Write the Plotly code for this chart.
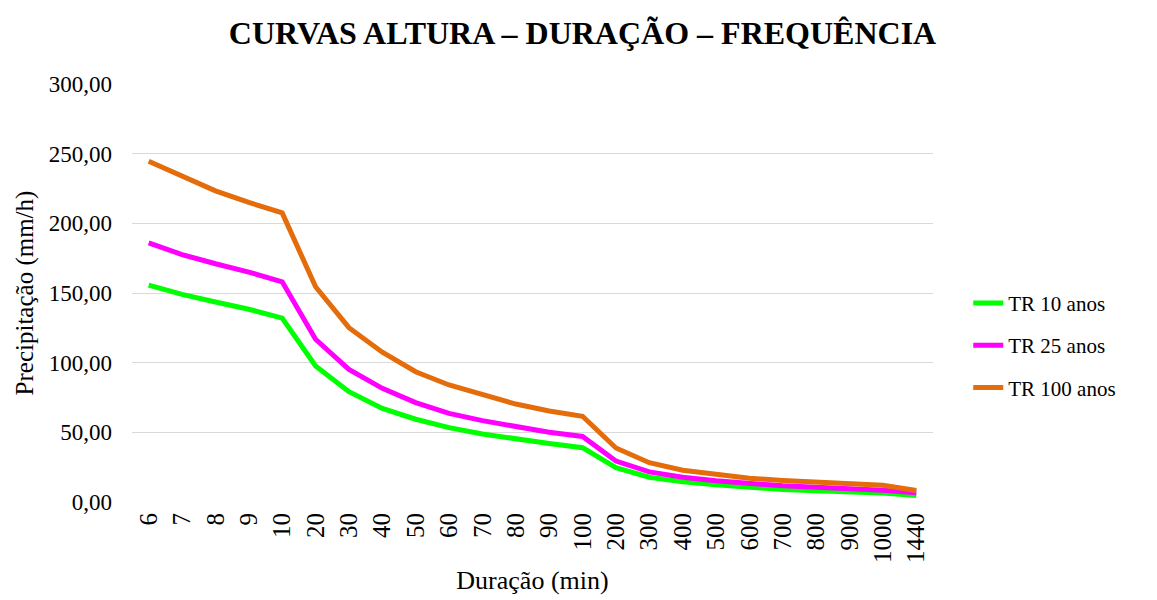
import plotly.graph_objects as go

duracao = ["6", "7", "8", "9", "10", "20", "30", "40", "50", "60", "70", "80", "90",
           "100", "200", "300", "400", "500", "600", "700", "800", "900", "1000", "1440"]

tr10 = [155.6, 149.0, 143.5, 138.3, 132.0, 97.6, 79.2, 67.2, 59.4, 53.4, 48.8, 45.0, 42.0,
        39.0, 24.6, 17.8, 14.5, 12.4, 10.5, 9.0, 8.0, 7.2, 6.4, 4.6]
tr25 = [186.0, 177.6, 171.0, 165.0, 158.0, 116.8, 95.2, 81.6, 71.3, 63.6, 58.4, 54.0, 50.0,
        47.0, 29.4, 21.6, 17.8, 15.2, 13.3, 11.6, 10.5, 9.5, 8.5, 6.6]
tr100 = [244.5, 233.8, 223.3, 215.0, 207.5, 154.5, 125.1, 107.5, 93.5, 84.0, 76.8, 70.3, 65.3,
         61.5, 38.8, 28.2, 22.8, 19.5, 17.0, 15.5, 14.2, 13.1, 12.0, 8.3]

series_names = ["TR 10 anos", "TR 25 anos", "TR 100 anos"]
series_colors = ["#00FF00", "#FF00FF", "#E46C0A"]

y_ticks = [0, 50, 100, 150, 200, 250, 300]
y_tick_text = ["0,00", "50,00", "100,00", "150,00", "200,00", "250,00", "300,00"]

FONT = "Liberation Serif, Times New Roman, serif"

fig = go.Figure()
for name, vals, col in zip(series_names, [tr10, tr25, tr100], series_colors):
    fig.add_trace(go.Scatter(
        x=duracao, y=vals, mode="lines", name=name, legendgroup=name,
        line=dict(color=col, width=5),
    ))

fig.update_layout(
    width=1149, height=592,
    margin=dict(l=124, r=224, t=76, b=98),
    paper_bgcolor="white", plot_bgcolor="white",
    font=dict(family=FONT, size=21, color="black"),
    title=dict(text="<b>CURVAS ALTURA – DURAÇÃO – FREQUÊNCIA</b>",
               x=0.5, xanchor="center", y=1 - 25 / 592, yanchor="middle",
               font=dict(family=FONT, size=32, color="black")),
    showlegend=True,
    legend=dict(x=1.044, xanchor="left", y=0.375, yanchor="middle",
                font=dict(family=FONT, size=21, color="black"),
                tracegroupgap=12, bgcolor="rgba(0,0,0,0)"),
    xaxis=dict(type="category", categoryorder="array", categoryarray=duracao,
               range=[-0.5, len(duracao) - 0.5],
               tickangle=-90, showgrid=False, showline=False, zeroline=False,
               ticks="", ticklabelstandoff=5,
               tickfont=dict(family=FONT, size=25),
               title=dict(text="Duração (min)", font=dict(family=FONT, size=26), standoff=8)),
    yaxis=dict(range=[0, 300], tickvals=y_ticks, ticktext=y_tick_text,
               showgrid=True, gridcolor="#D9D9D9", gridwidth=1, zeroline=False,
               showline=False, ticks="", ticklabelstandoff=19,
               tickfont=dict(family=FONT, size=23),
               title=dict(text="Precipitação (mm/h)", font=dict(family=FONT, size=25), standoff=8)),
)

fig.write_html("out.html")
